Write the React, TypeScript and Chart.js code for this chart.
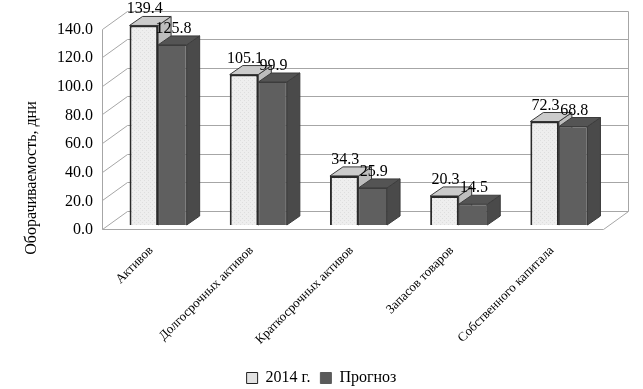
import React, { useEffect, useRef } from "react";
import { Chart, registerables } from "chart.js";

Chart.register(...registerables);

const categories = [
  "Активов",
  "Долгосрочных активов",
  "Краткосрочных активов",
  "Запасов товаров",
  "Собственного капитала",
];
const series2014 = [139.4, 105.1, 34.3, 20.3, 72.3];
const seriesForecast = [125.8, 99.9, 25.9, 14.5, 68.8];
const seriesNames = ["2014 г.", "Прогноз"];
const yMin = 0;
const yMax = 140;
const yStep = 20;
const yTitle = "Оборачиваемость, дни";

const FONT = "'Liberation Serif', 'Times New Roman', serif";
const FRONT = { dx: -6, dy: 4 };
const BACK = { dx: 19, dy: -14 };
const DEPTH = { dx: 13, dy: -9 };
const GRID = "#a6a6a6";

const faceColors = [
  { top: "#cbcbcb", side: "#bdbdbd", edge: "#3a3a3a" },
  { top: "#545454", side: "#4a4a4a", edge: "#3c3c3c" },
];

function line(ctx: CanvasRenderingContext2D, x1: number, y1: number, x2: number, y2: number) {
  ctx.beginPath();
  ctx.moveTo(x1, y1);
  ctx.lineTo(x2, y2);
  ctx.stroke();
}

const threeD = {
  id: "threeD",
  beforeDatasetsDraw(chart: any) {
    const { ctx, chartArea: a, scales } = chart;
    const y = scales.y;
    ctx.save();
    ctx.strokeStyle = GRID;
    ctx.lineWidth = 1;
    const L = Math.round(a.left) + 0.5;
    const R = Math.round(a.right) + 0.5;
    const T = Math.round(a.top) + 0.5;
    const B = Math.round(a.bottom) + 0.5;
    for (const t of y.ticks) {
      const py = Math.round(y.getPixelForValue(t.value)) + 0.5;
      line(ctx, L + BACK.dx, py + BACK.dy, R + BACK.dx, py + BACK.dy);
      line(ctx, L + FRONT.dx, py + FRONT.dy, L + BACK.dx, py + BACK.dy);
    }
    line(ctx, L + FRONT.dx, T + FRONT.dy, L + FRONT.dx, B + FRONT.dy);
    line(ctx, L + FRONT.dx, B + FRONT.dy, R + FRONT.dx, B + FRONT.dy);
    line(ctx, R + FRONT.dx, B + FRONT.dy, R + BACK.dx, B + BACK.dy);
    line(ctx, R + BACK.dx, T + BACK.dy, R + BACK.dx, B + BACK.dy);

    chart.data.datasets.forEach((_: any, di: number) => {
      const meta = chart.getDatasetMeta(di);
      const c = faceColors[di];
      meta.data.forEach((el: any) => {
        const { x, y: top, base, width } = el.getProps(["x", "y", "base", "width"], true);
        const x1 = x - width / 2;
        const x2 = x + width / 2;
        ctx.beginPath();
        ctx.moveTo(x2, top);
        ctx.lineTo(x2 + DEPTH.dx, top + DEPTH.dy);
        ctx.lineTo(x2 + DEPTH.dx, base + DEPTH.dy);
        ctx.lineTo(x2, base);
        ctx.closePath();
        ctx.fillStyle = c.side;
        ctx.fill();
        ctx.strokeStyle = c.edge;
        ctx.lineWidth = 1;
        ctx.stroke();
        ctx.beginPath();
        ctx.moveTo(x1, top);
        ctx.lineTo(x2, top);
        ctx.lineTo(x2 + DEPTH.dx, top + DEPTH.dy);
        ctx.lineTo(x1 + DEPTH.dx, top + DEPTH.dy);
        ctx.closePath();
        ctx.fillStyle = c.top;
        ctx.fill();
        ctx.stroke();
      });
    });
    ctx.restore();
  },
  afterDatasetsDraw(chart: any) {
    const { ctx } = chart;
    ctx.save();
    ctx.fillStyle = "#000";
    ctx.font = `16px ${FONT}`;
    ctx.textAlign = "center";
    ctx.textBaseline = "alphabetic";
    chart.data.datasets.forEach((ds: any, di: number) => {
      const meta = chart.getDatasetMeta(di);
      meta.data.forEach((el: any, i: number) => {
        const { x, y } = el.getProps(["x", "y"], true);
        ctx.fillText(Number(ds.data[i]).toFixed(1), x + 1, y - 12);
      });
    });
    ctx.translate(32, 178);
    ctx.rotate(-Math.PI / 2);
    ctx.textBaseline = "middle";
    ctx.fillText(yTitle, 0, 0);
    ctx.restore();
  },
};

function makePattern(): CanvasPattern | string {
  const c = document.createElement("canvas");
  c.width = 4;
  c.height = 4;
  const g = c.getContext("2d");
  if (!g) return "#ececec";
  g.fillStyle = "#eeeeee";
  g.fillRect(0, 0, 4, 4);
  g.fillStyle = "#dedede";
  g.fillRect(0, 0, 1, 1);
  g.fillRect(2, 2, 1, 1);
  const p = g.createPattern(c, "repeat");
  return p || "#ececec";
}

export default function App() {
  const ref = useRef<HTMLCanvasElement | null>(null);
  useEffect(() => {
    if (!ref.current) return;
    const pattern = makePattern();
    const chart = new Chart(ref.current, {
      type: "bar",
      data: {
        labels: categories,
        datasets: [
          {
            label: seriesNames[0],
            data: series2014,
            backgroundColor: pattern as any,
            borderColor: "#2a2a2a",
            borderWidth: 2,
            categoryPercentage: 0.57,
            barPercentage: 1,
          },
          {
            label: seriesNames[1],
            data: seriesForecast,
            backgroundColor: "#5f5f5f",
            borderColor: "#3c3c3c",
            borderWidth: 1,
            categoryPercentage: 0.57,
            barPercentage: 1,
          },
        ],
      },
      options: {
        animation: false,
        responsive: false,
        devicePixelRatio: 1,
        layout: { padding: { top: 23, right: 34, left: 34, bottom: 0 } },
        scales: {
          x: {
            grid: { display: false, drawTicks: false },
            border: { display: false },
            ticks: {
              color: "#000",
              font: { family: FONT, size: 13 },
              minRotation: 45,
              maxRotation: 45,
              autoSkip: false,
              labelOffset: -7,
              padding: 18,
            },
            afterFit: (s: any) => {
              s.height = 135;
            },
          },
          y: {
            min: yMin,
            max: yMax,
            grid: { display: false, drawTicks: false },
            border: { display: false },
            ticks: {
              stepSize: yStep,
              color: "#000",
              font: { family: FONT, size: 16 },
              padding: 15,
              labelOffset: 5,
              callback: (v: any) => Number(v).toFixed(1),
            },
            afterFit: (s: any) => {
              s.width = 74;
            },
          },
        },
        plugins: {
          legend: {
            position: "bottom",
            labels: {
              color: "#000",
              font: { family: FONT, size: 16 },
              boxWidth: 11,
              boxHeight: 11,
              padding: 10,
              generateLabels: (ch: any) => {
                const items = (Chart.defaults.plugins.legend.labels as any).generateLabels(ch);
                items.forEach((it: any, i: number) => {
                  it.fillStyle = i === 0 ? "#e2e2e2" : "#5a5a5a";
                  it.strokeStyle = i === 0 ? "#222" : "#5a5a5a";
                  it.lineWidth = 1;
                });
                return items;
              },
            },
          },
          tooltip: { enabled: false },
        },
      },
      plugins: [threeD],
    });
    return () => chart.destroy();
  }, []);
  return (
    <div
      style={{
        position: "fixed",
        left: 0,
        top: 0,
        width: 643,
        height: 389,
        overflow: "hidden",
        background: "#fff",
      }}
    >
      <canvas ref={ref} width={643} height={396} style={{ display: "block" }} />
    </div>
  );
}
